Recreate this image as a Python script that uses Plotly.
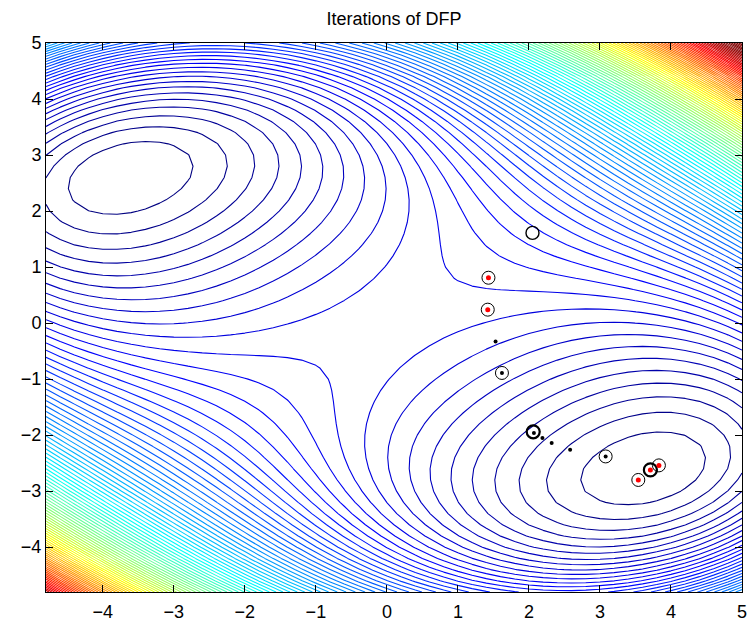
import numpy as np
import plotly.graph_objects as go

# ---- surface: even quartic polynomial whose contour levels were matched to the picture
# f(x,y) = sum(c_i * term_i) + offset, one contour per unit level
term_names = ['xy', 'x2', 'y2', 'x4', 'y4', 'x2y2', 'x3y', 'xy3']
surface_coef = [1.35231, -0.30994, -0.52235, 0.01513, 0.04597, 0.06431, 0.00394, -0.00026]
surface_offset = 10.51994
grid_lo, grid_hi, grid_step = -4.8, 5.0, 0.2
color_top = 98.0   # level that maps to the dark-red end of the jet colormap

# ---- iteration markers
start_x, start_y = [2.05], [1.61]
circ_x = [1.43, 1.42, 1.62, 2.06, 3.08, 3.54, 3.71, 3.83]
circ_y = [0.81, 0.24, -0.89, -1.94, -2.38, -2.80, -2.62, -2.54]
bold_x = [2.06, 3.71]
bold_y = [-1.94, -2.62]
red_x = [1.43, 1.42, 3.54, 3.71, 3.83]
red_y = [0.81, 0.24, -2.80, -2.62, -2.54]
blk_x = [1.53, 1.62, 2.07, 2.19, 2.32, 2.58, 3.08]
blk_y = [-0.33, -0.89, -1.96, -2.05, -2.14, -2.26, -2.38]

tick_vals = list(range(-4, 6))


def terms(x, y):
    return np.stack([x*y, x**2, y**2, x**4, y**4, x**2*y**2, x**3*y, x*y**3], axis=-1)


xs = np.round(np.arange(grid_lo, grid_hi + 1e-9, grid_step), 6)
ys = xs.copy()
X, Y = np.meshgrid(xs, ys)
Z = terms(X, Y) @ np.array(surface_coef) + surface_offset

jet = [[0, 'rgb(0,0,128)'], [0.125, 'rgb(0,0,255)'], [0.375, 'rgb(0,255,255)'],
       [0.625, 'rgb(255,255,0)'], [0.875, 'rgb(255,0,0)'], [1, 'rgb(128,0,0)']]

fig = go.Figure()
fig.add_trace(go.Contour(x=xs, y=ys, z=Z, colorscale=jet, showscale=False,
                         zmin=float(Z.min()), zmax=color_top, zauto=False,
                         contours=dict(coloring='lines', start=1, end=float(np.ceil(Z.max())), size=1),
                         line=dict(width=1.1, smoothing=0), hoverinfo='skip'))
fig.add_trace(go.Scatter(x=start_x, y=start_y, mode='markers',
                         marker=dict(symbol='circle-open', size=13, color='black', line=dict(width=1.4))))
fig.add_trace(go.Scatter(x=circ_x, y=circ_y, mode='markers',
                         marker=dict(symbol='circle-open', size=13, color='black', line=dict(width=1))))
fig.add_trace(go.Scatter(x=bold_x, y=bold_y, mode='markers',
                         marker=dict(symbol='circle-open', size=13, color='black', line=dict(width=2.2))))
fig.add_trace(go.Scatter(x=red_x, y=red_y, mode='markers', marker=dict(symbol='circle', size=5, color='red')))
fig.add_trace(go.Scatter(x=blk_x, y=blk_y, mode='markers', marker=dict(symbol='circle', size=4, color='black')))

ax = dict(showgrid=False, zeroline=False, showline=True, linecolor='black', linewidth=1,
          mirror='ticks', ticks='inside', ticklen=7, tickcolor='black', tickwidth=1,
          tickvals=tick_vals, tickfont=dict(size=18, color='black'), automargin=False)
fig.update_layout(width=751, height=625, margin=dict(l=46, r=9, t=43, b=33),
                  paper_bgcolor='white', plot_bgcolor='white', showlegend=False,
                  font=dict(family='Liberation Sans, Arial, Helvetica, sans-serif', color='black'),
                  title=dict(text='Iterations of DFP', x=394/751, xanchor='center', y=1-18.5/625,
                             yanchor='middle', font=dict(size=18)),
                  xaxis=dict(range=[grid_lo, grid_hi], ticklabelstandoff=3, **ax),
                  yaxis=dict(range=[grid_lo, grid_hi], **ax))
fig.write_html('out.html', config={'displayModeBar': False},
               post_script="document.body.style.margin='0';document.body.style.padding='0';")
